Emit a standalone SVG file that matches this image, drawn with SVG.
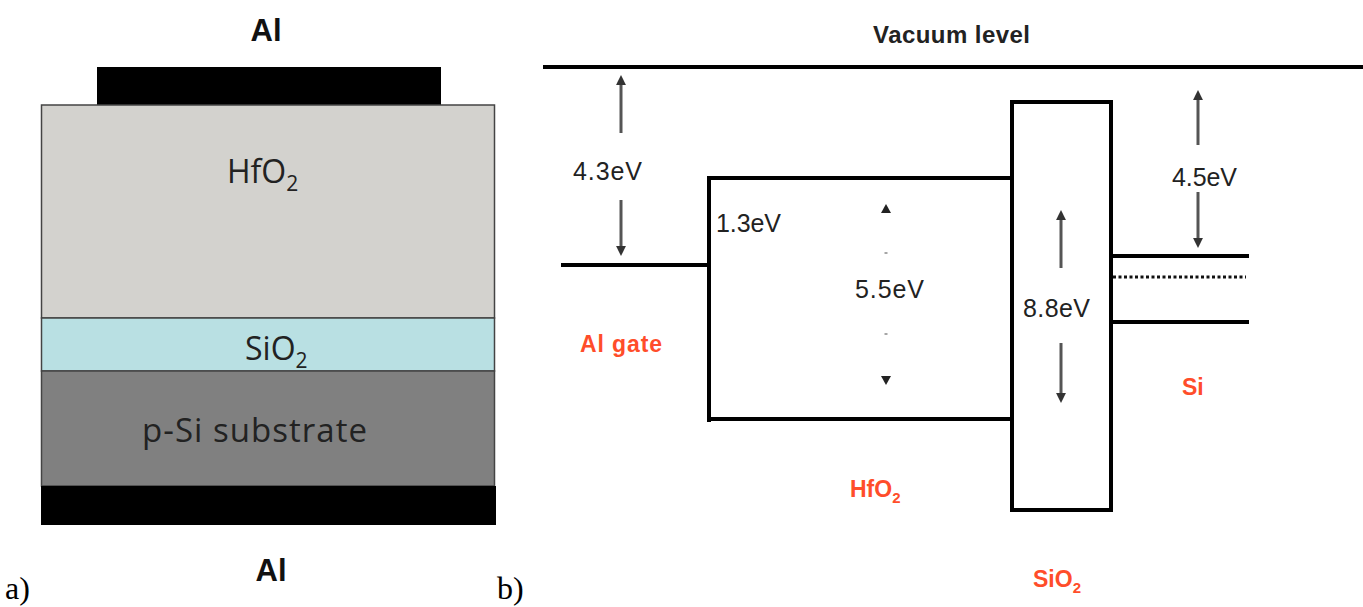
<svg xmlns="http://www.w3.org/2000/svg" width="1363" height="607" viewBox="0 0 1363 607">
<style>
.lbl{font-family:"Open Sans","Liberation Sans",sans-serif;fill:#222;}
.al{font-family:"Liberation Sans",Arial,sans-serif;font-weight:bold;font-size:31px;fill:#111;}
.ev{font-family:"Liberation Sans",Arial,sans-serif;font-size:25px;fill:#222;}
.red{font-family:"Liberation Sans",Arial,sans-serif;font-weight:bold;font-size:23px;fill:#ff4d2a;}
.band{stroke:#000;stroke-width:4;fill:none;}
.arr{stroke:#555;stroke-width:3;fill:none;}
.cap{font-family:"Liberation Serif","Times New Roman",serif;font-size:32px;fill:#000;}
</style>
<defs>
<marker id="ah" viewBox="0 0 10 10" refX="5" refY="5" markerWidth="3.3" markerHeight="3.3" orient="auto-start-reverse" markerUnits="strokeWidth">
<path d="M0,0 L10,5 L0,10 z" fill="#333"/>
</marker>
</defs>

<g id="panel-a">
<g id="al-top">
<rect x="97" y="67" width="344" height="38" fill="#000"/>
<text class="al" x="266" y="41" text-anchor="middle">Al</text>
</g>
<g id="hfo2-layer">
<rect x="41.5" y="105" width="453" height="213" fill="#d3d2ce" stroke="#444" stroke-width="1.5"/>
<text class="lbl" x="227" y="183" font-size="32">HfO<tspan font-size="21" dy="8">2</tspan></text>
</g>
<g id="sio2-layer">
<rect x="41.5" y="318" width="453" height="53" fill="#b9e0e3" stroke="#444" stroke-width="1.5"/>
<text class="lbl" x="245" y="360" font-size="32">SiO<tspan font-size="21" dy="8">2</tspan></text>
</g>
<g id="substrate-layer">
<rect x="41.5" y="371" width="453" height="115" fill="#808080" stroke="#444" stroke-width="1.5"/>
<text class="lbl" x="142" y="442" font-size="33" textLength="225">p-Si substrate</text>
</g>
<g id="al-bottom">
<rect x="41" y="486" width="455" height="39" fill="#000"/>
<text class="al" x="271" y="581" text-anchor="middle">Al</text>
</g>
<text class="cap" x="5" y="599">a)</text>
</g>

<g id="panel-b">
<text class="cap" x="497" y="599">b)</text>
<g id="vacuum-level">
<line class="band" x1="543" y1="67" x2="1363" y2="67" stroke-width="3.5"/>
<text x="873" y="43" font-family="Liberation Sans, Arial, sans-serif" font-weight="bold" font-size="24" fill="#222" textLength="157">Vacuum level</text>
</g>
<g id="al-gate">
<line class="band" x1="561" y1="265" x2="709" y2="265"/>
<text class="ev" x="573" y="180" textLength="69">4.3eV</text>
<text class="red" x="580" y="352" textLength="82">Al gate</text>
</g>
<g id="hfo2-band">
<path class="band" d="M709,422 V178 H1012 M709,419 H1012"/>
<text class="ev" x="716" y="232" textLength="65">1.3eV</text>
<text class="ev" x="855" y="298" textLength="69">5.5eV</text>
<text class="red" x="850" y="497">HfO<tspan font-size="15" dy="6">2</tspan></text>
</g>
<g id="sio2-band">
<rect class="band" x="1012" y="102" width="99" height="408"/>
<text class="ev" x="1023" y="317" textLength="67">8.8eV</text>
<text class="red" x="1033" y="587">SiO<tspan font-size="15" dy="6">2</tspan></text>
</g>
<g id="si-band">
<line class="band" x1="1111" y1="256" x2="1249" y2="256"/>
<line x1="1113" y1="277" x2="1246" y2="277" stroke="#111" stroke-width="3" stroke-dasharray="3,2.5"/>
<line class="band" x1="1111" y1="322" x2="1249" y2="322"/>
<text class="ev" x="1172" y="186" textLength="65">4.5eV</text>
<text class="red" x="1182" y="395">Si</text>
</g>
<g id="connectors">
<line class="arr" x1="621" y1="133" x2="621" y2="80" marker-end="url(#ah)"/>
<line class="arr" x1="621" y1="200" x2="621" y2="251" marker-end="url(#ah)"/>
<line class="arr" x1="1061" y1="268" x2="1061" y2="215" marker-end="url(#ah)"/>
<line class="arr" x1="1061" y1="343" x2="1061" y2="398" marker-end="url(#ah)"/>
<line class="arr" x1="1198" y1="145" x2="1198" y2="95" marker-end="url(#ah)"/>
<line class="arr" x1="1198" y1="192" x2="1198" y2="243" marker-end="url(#ah)"/>
<path d="M886,204 L881,213 L891,213 z" fill="#222"/>
<path d="M886,385 L881,376 L891,376 z" fill="#222"/>
<line x1="884.5" y1="253" x2="887.5" y2="253" stroke="#888" stroke-width="1.5"/>
<line x1="884.5" y1="334" x2="887.5" y2="334" stroke="#888" stroke-width="1.5"/>
</g>
</g>
</svg>
